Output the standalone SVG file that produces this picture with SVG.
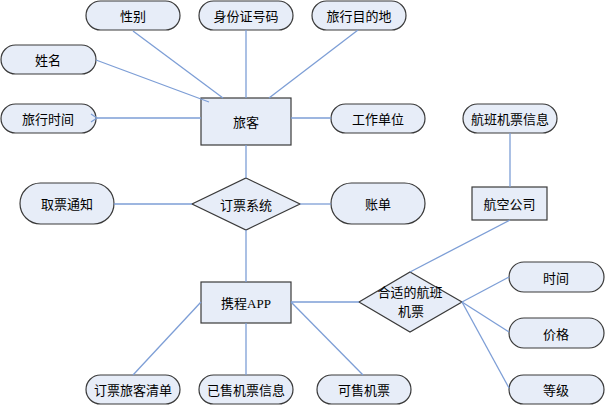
<svg xmlns="http://www.w3.org/2000/svg" width="605" height="405" viewBox="0 0 605 405">
<defs>
<style>
.n{fill:#E7EDF8;stroke:#3a3a3a;stroke-width:1.2}
.t{font-family:"Noto Sans CJK SC","Liberation Sans",sans-serif;font-size:13px;fill:#000;text-anchor:middle;dominant-baseline:central}
.c{stroke:#7D9ED6;stroke-width:1.3;fill:none}
.en{font-family:"Liberation Serif",serif}
</style>
<marker id="ar" markerWidth="10" markerHeight="10" refX="1" refY="5" orient="auto" markerUnits="userSpaceOnUse">
<path d="M7,1 L1,5 L7,9" fill="none" stroke="#7D9ED6" stroke-width="1.3"/>
</marker>
</defs>
<rect width="605" height="405" fill="#fff"/>
<g id="n-xingbie"><rect class="n" x="86" y="1" width="94" height="29" rx="14.5"/><text class="t" x="133" y="15.5">性别</text></g>
<g id="n-shenfen"><rect class="n" x="199" y="1" width="94" height="29" rx="14.5"/><text class="t" x="246" y="15.5">身份证号码</text></g>
<g id="n-mudidi"><rect class="n" x="312" y="1" width="94" height="29" rx="14.5"/><text class="t" x="359" y="15.5">旅行目的地</text></g>
<g id="n-xingming"><rect class="n" x="1" y="45" width="95" height="29" rx="14.5"/><text class="t" x="48" y="59.5">姓名</text></g>
<g id="n-shijian1"><rect class="n" x="1" y="104" width="95" height="29" rx="14.5"/><text class="t" x="48" y="118.5">旅行时间</text></g>
<g id="n-lvke"><rect class="n" x="201" y="98" width="90" height="47"/><text class="t" x="246" y="121.5">旅客</text></g>
<g id="n-gongzuo"><rect class="n" x="331" y="104" width="94" height="29" rx="14.5"/><text class="t" x="378" y="118.5">工作单位</text></g>
<g id="n-hangban"><rect class="n" x="463" y="104" width="94" height="29" rx="14.5"/><text class="t" x="510" y="118.5">航班机票信息</text></g>
<g id="n-qupiao"><rect class="n" x="20" y="183" width="94" height="41" rx="20.5"/><text class="t" x="67" y="203.5">取票通知</text></g>
<g id="n-dingpiao"><polygon class="n" points="246,178 300,204 246,230 192,204"/><text class="t" x="246" y="204">订票系统</text></g>
<g id="n-zhangdan"><rect class="n" x="331" y="183" width="94" height="41" rx="20.5"/><text class="t" x="378" y="203.5">账单</text></g>
<g id="n-hangkong"><rect class="n" x="472" y="187" width="75" height="33"/><text class="t" x="509.5" y="203.5">航空公司</text></g>
<g id="n-xiecheng"><rect class="n" x="201" y="282" width="90" height="41"/><text class="t" x="246" y="302.5">携程<tspan class="en">APP</tspan></text></g>
<g id="n-heshi"><polygon class="n" points="410,272 462,302 410,332 359,302"/><text class="t" x="410" y="291">合适的航班</text><text class="t" x="411" y="310.5">机票</text></g>
<g id="n-shijian2"><rect class="n" x="509" y="262" width="95" height="30" rx="15"/><text class="t" x="556" y="277">时间</text></g>
<g id="n-jiage"><rect class="n" x="509" y="318" width="95" height="30" rx="15"/><text class="t" x="556" y="333">价格</text></g>
<g id="n-dengji"><rect class="n" x="509" y="375" width="95" height="29" rx="14.5"/><text class="t" x="556" y="389.5">等级</text></g>
<g id="n-qingdan"><rect class="n" x="86" y="375" width="94" height="29" rx="14.5"/><text class="t" x="133" y="389.5">订票旅客清单</text></g>
<g id="n-yishou"><rect class="n" x="199" y="375" width="94" height="29" rx="14.5"/><text class="t" x="246" y="389.5">已售机票信息</text></g>
<g id="n-keshou"><rect class="n" x="317" y="375" width="94" height="29" rx="14.5"/><text class="t" x="364" y="389.5">可售机票</text></g>
<g id="connectors">
<line class="c" x1="133" y1="31" x2="223" y2="98"/>
<line class="c" x1="246" y1="30" x2="246" y2="98"/>
<line class="c" x1="358" y1="30" x2="269" y2="98"/>
<line class="c" x1="96" y1="60" x2="209" y2="102"/>
<line class="c" x1="201" y1="118" x2="97" y2="118" marker-end="url(#ar)"/>
<line class="c" x1="291" y1="118" x2="331" y2="118"/>
<line class="c" x1="246" y1="145" x2="246" y2="178"/>
<line class="c" x1="192" y1="204" x2="114" y2="204"/>
<line class="c" x1="300" y1="204" x2="331" y2="204"/>
<line class="c" x1="246" y1="230" x2="246" y2="282"/>
<line class="c" x1="291" y1="302" x2="359" y2="302"/>
<line class="c" x1="291" y1="302" x2="363" y2="375"/>
<line class="c" x1="201" y1="302" x2="133" y2="375"/>
<line class="c" x1="246" y1="323" x2="246" y2="375"/>
<line class="c" x1="510" y1="133" x2="510" y2="187"/>
<line class="c" x1="510" y1="220" x2="410" y2="272"/>
<line class="c" x1="462" y1="302" x2="509" y2="277"/>
<line class="c" x1="462" y1="302" x2="509" y2="332"/>
<line class="c" x1="462" y1="302" x2="509" y2="388"/>
</g>
</svg>
